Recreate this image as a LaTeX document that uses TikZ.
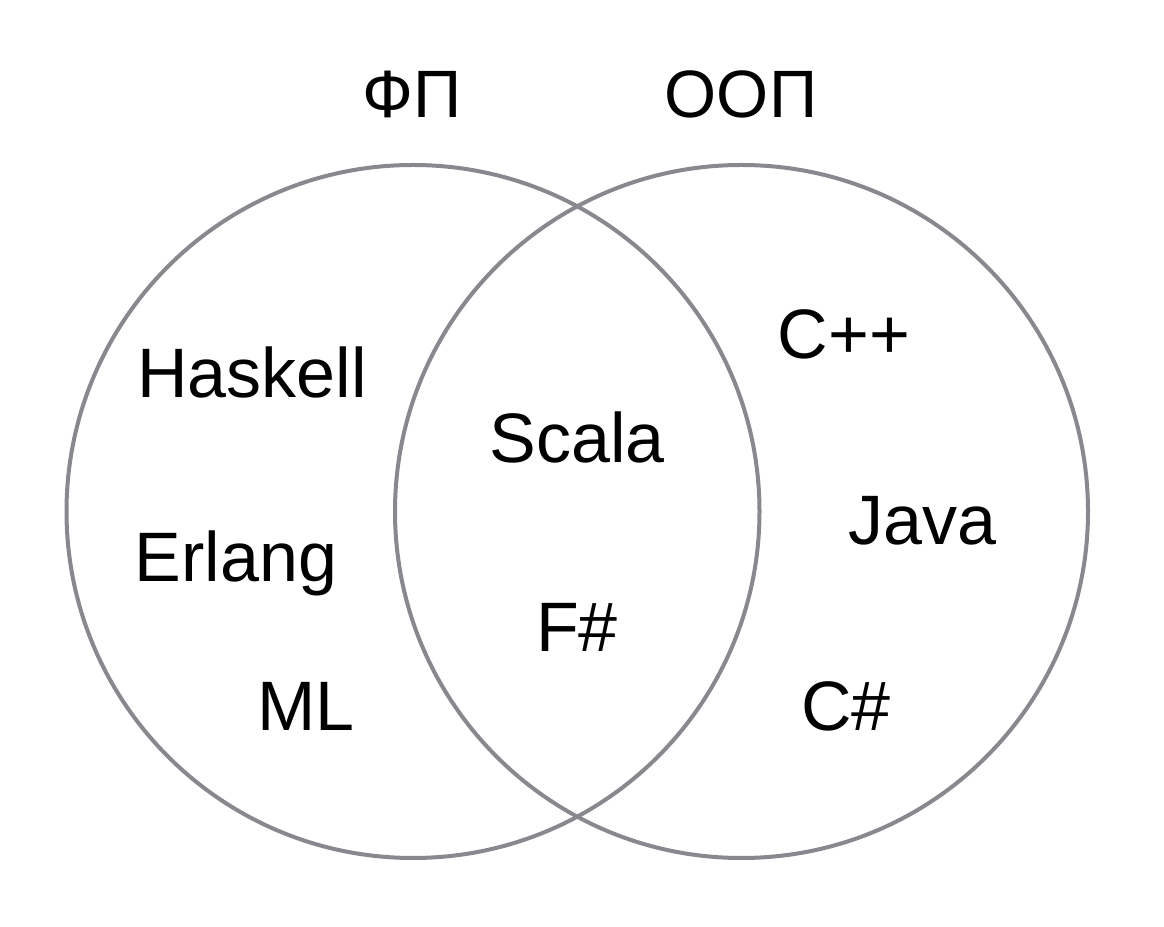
\documentclass[tikz,border=0pt]{standalone}
\usepackage{fontspec}
\setmainfont{Liberation Sans}
\definecolor{ringgray}{RGB}{136,136,142}
\tikzset{
  ring/.style={draw=ringgray, line width=4pt},
  lang/.style={anchor=base, inner sep=0pt, font=\fontsize{70}{84}\selectfont},
  head/.style={anchor=base, inner sep=0pt, font=\fontsize{67}{80}\selectfont}
}
\begin{document}
\begin{tikzpicture}[x=1pt,y=1pt]
\useasboundingbox[fill=white] (0,0) rectangle (1164,926);
\node[ring, circle, minimum size=693pt, inner sep=0pt] (fp) at (413,414.5) {};
\node[ring, circle, minimum size=693pt, inner sep=0pt] (oop) at (741.5,414.5) {};
\node[head] (fpt) at (412,808) {ФП};
\node[head] (oopt) at (741,808) {ООП};
\node[lang] (haskell) at (252,528) {Haskell};
\node[lang] (erlang) at (236,344) {Erlang};
\node[lang] (ml) at (306,195) {ML};
\node[lang] (scala) at (577,463) {Scala};
\node[lang] (fsharp) at (577,274) {F\#};
\node[lang] (cpp) at (844,567) {C++};
\node[lang] (java) at (922,381) {Java};
\node[lang] (csharp) at (846,195) {C\#};
\end{tikzpicture}
\end{document}
